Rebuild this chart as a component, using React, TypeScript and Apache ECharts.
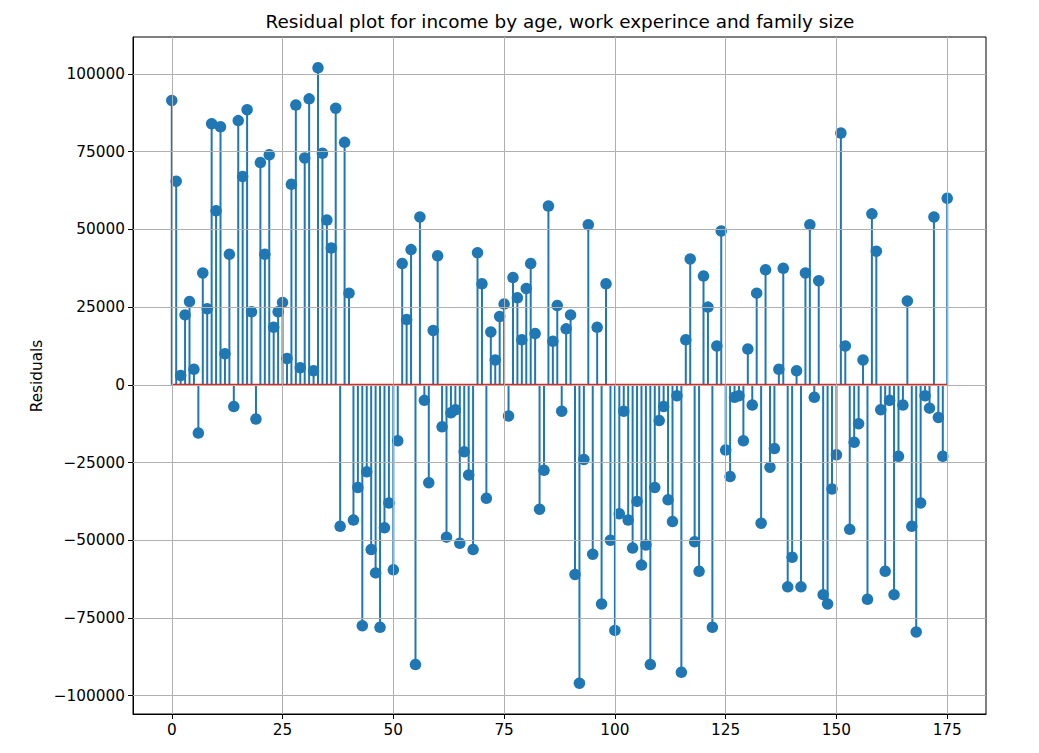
import React, { useEffect, useRef } from "react";
import * as echarts from "echarts";

const residuals: number[] = [
  91500, 65500, 3000, 22500, 26800, 5000, -15500, 36000, 24500, 84000,
  56000, 83000, 10000, 42000, -7000, 85000, 67000, 88500, 23500, -11000,
  71500, 42000, 74000, 18500, 23500, 26500, 8500, 64500, 90000, 5500,
  73000, 92000, 4500, 102000, 74500, 53000, 44000, 89000, -45500, 78000,
  29500, -43500, -33000, -77500, -28000, -53000, -60500, -78000, -46000, -38000,
  -59500, -18000, 39000, 21000, 43500, -90000, 54000, -5000, -31500, 17500,
  41500, -13500, -49000, -9000, -8000, -51000, -21500, -29000, -53000, 42500,
  32500, -36500, 17000, 8000, 22000, 26000, -10000, 34500, 28000, 14500,
  31000, 39000, 16500, -40000, -27500, 57500, 14000, 25500, -8500, 18000,
  22500, -61000, -96000, -24000, 51500, -54500, 18500, -70500, 32500, -50000,
  -79000, -41500, -8500, -43500, -52500, -37500, -58000, -51500, -90000, -33000,
  -11500, -7000, -37000, -44000, -3500, -92500, 14500, 40500, -50500, -60000,
  35000, 25000, -78000, 12500, 49500, -21000, -29500, -4000, -3500, -18000,
  11500, -6500, 29500, -44500, 37000, -26500, -20500, 5000, 37500, -65000,
  -55500, 4500, -65000, 36000, 51500, -4000, 33500, -67500, -70500, -33500,
  -22500, 81000, 12500, -46500, -18500, -12500, 8000, -69000, 55000, 43000,
  -8000, -60000, -5000, -67500, -23000, -6500, 27000, -45500, -79500, -38000,
  -3500, -7500, 54000, -10500, -23000, 60000,
];

const xTicks: number[] = [0, 25, 50, 75, 100, 125, 150, 175];
const yTicks: number[] = [-100000, -75000, -50000, -25000, 0, 25000, 50000, 75000, 100000];

const titleText = "Residual plot for income by age, work experince and family size";
const yLabel = "Residuals";

const STEM = "#1f77b4";
const FONT = "DejaVu Sans";

export default function App() {
  const ref = useRef<HTMLDivElement>(null);
  useEffect(() => {
    if (!ref.current) return;
    const chart = echarts.init(ref.current, null, { renderer: "svg" });
    const points = residuals.map((v, i) => [i, v]);
    const n = residuals.length - 1;
    const xMin = -0.05 * n;
    const xMax = n + 0.05 * n;
    const yMaxV = Math.max(...residuals);
    const yMinV = Math.min(...residuals);
    const yPad = 0.05 * (yMaxV - yMinV);
    const gridStyle = { color: "#b0b0b0", width: 1, type: "solid" as const };
    chart.setOption({
      animation: false,
      backgroundColor: "#ffffff",
      textStyle: { fontFamily: FONT },
      grid: {
        left: 133,
        right: 53,
        top: 37,
        bottom: 39,
        show: true,
        borderColor: "#000000",
        borderWidth: 1,
        backgroundColor: "transparent",
      },
      graphic: [
        {
          type: "text",
          x: 560,
          y: 21,
          style: {
            text: titleText,
            fontFamily: FONT,
            fontSize: 18.4,
            fill: "#000000",
            textAlign: "center",
            textVerticalAlign: "middle",
          },
        },
        {
          type: "text",
          x: 37,
          y: 376,
          rotation: Math.PI / 2,
          style: {
            text: yLabel,
            fontFamily: FONT,
            fontSize: 15.3,
            fill: "#000000",
            textAlign: "center",
            textVerticalAlign: "middle",
          },
        },
      ],
      xAxis: {
        type: "value",
        min: xMin,
        max: xMax,
        axisLine: { show: true, onZero: false, lineStyle: { color: "#000000", width: 1 } },
        axisTick: { show: true, customValues: xTicks, length: 5, lineStyle: { color: "#000000" } },
        axisLabel: {
          show: true,
          customValues: xTicks,
          color: "#000000",
          fontFamily: FONT,
          fontSize: 15.3,
          margin: 8,
          formatter: (v: number) => String(v),
        },
        splitLine: { show: false },
      },
      yAxis: {
        type: "value",
        min: yMinV - yPad,
        max: yMaxV + yPad,
        axisLine: { show: true, onZero: false, lineStyle: { color: "#000000", width: 1 } },
        axisTick: { show: true, customValues: yTicks, length: 5, lineStyle: { color: "#000000" } },
        axisLabel: {
          show: true,
          customValues: yTicks,
          color: "#000000",
          fontFamily: FONT,
          fontSize: 15.3,
          margin: 8,
          formatter: (v: number) => String(v).replace("-", "\u2212"),
        },
        splitLine: { show: false },
      },
      series: [
        {
          type: "line",
          data: [],
          silent: true,
          z: 0,
          markLine: {
            silent: true,
            symbol: ["none", "none"],
            label: { show: false },
            lineStyle: gridStyle,
            data: [
              ...xTicks.map((t) => ({ xAxis: t })),
              ...yTicks.map((t) => ({ yAxis: t })),
            ],
          },
        },
        {
          type: "bar",
          data: points,
          barWidth: 2,
          itemStyle: { color: STEM },
          silent: true,
          z: 2,
        },
        {
          type: "line",
          data: [[0, 0], [n, 0]],
          showSymbol: false,
          symbol: "none",
          lineStyle: { color: "#e8241c", width: 2 },
          silent: true,
          z: 3,
        },
        {
          type: "scatter",
          data: points,
          symbol: "circle",
          symbolSize: 11.5,
          itemStyle: { color: STEM, opacity: 1 },
          silent: true,
          z: 4,
        },
      ],
    });
    return () => chart.dispose();
  }, []);
  return (
    <div
      ref={ref}
      style={{ position: "fixed", left: 0, top: 0, width: 1039, height: 753 }}
    />
  );
}
